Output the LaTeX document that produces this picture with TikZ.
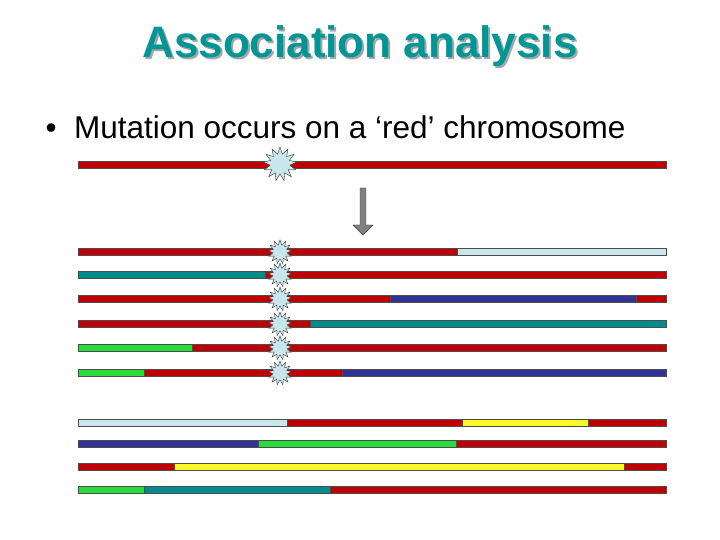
\documentclass[tikz,border=0pt]{standalone}
\usepackage{fontspec}
\setmainfont{Liberation Sans}
\usetikzlibrary{shapes.geometric, shapes.arrows}
\definecolor{chrred}{RGB}{192,0,0}
\definecolor{chrteal}{RGB}{0,140,140}
\definecolor{chrnavy}{RGB}{50,50,150}
\definecolor{chrlight}{RGB}{200,230,235}
\definecolor{chrgreen}{RGB}{40,220,60}
\definecolor{chryellow}{RGB}{250,250,40}
\definecolor{titleteal}{RGB}{0,150,150}
\tikzset{seg/.style={draw=black!70, line width=0.5pt},
  mutation/.style={star, star points=13, star point ratio=1.7, draw=black!80, fill=chrlight, inner sep=0pt},
  bigmut/.style={mutation, minimum size=34pt},
  smallmut/.style={mutation, minimum size=24pt}}
% \chrom{y}{list of x-start/x-end/colour}
\newcommand{\chrom}[2]{\foreach \xa/\xb/\col in {#2} {\filldraw[seg, fill=\col] (\xa,#1-3.5) rectangle (\xb,#1+3.5);}}
\begin{document}
\begin{tikzpicture}[x=1pt, y=-1pt]
    \useasboundingbox (0,0) rectangle (720,540);

    %Title
    \node[font=\bfseries\fontsize{44}{50}\selectfont, text=black!35] at (362,48) {Association analysis};
    \node[font=\bfseries\fontsize{44}{50}\selectfont, text=titleteal] (title) at (360,46) {Association analysis};
    \node[anchor=west, font=\fontsize{31.5}{36}\selectfont] (bullet) at (42,127) {\textbullet\ \ Mutation occurs on a ‘red’ chromosome};

    %Chromosomes
    \chrom{165}{78/666/chrred}
    \chrom{252}{78/457/chrred, 457/666/chrlight}
    \chrom{275}{78/265/chrteal, 265/666/chrred}
    \chrom{299}{78/390/chrred, 390/636/chrnavy, 636/666/chrred}
    \chrom{324}{78/310/chrred, 310/666/chrteal}
    \chrom{348}{78/192/chrgreen, 192/666/chrred}
    \chrom{373}{78/144/chrgreen, 144/342/chrred, 342/666/chrnavy}
    \chrom{423}{78/287/chrlight, 287/462/chrred, 462/588/chryellow, 588/666/chrred}
    \chrom{444}{78/258/chrnavy, 258/456/chrgreen, 456/666/chrred}
    \chrom{467}{78/174/chrred, 174/624/chryellow, 624/666/chrred}
    \chrom{490}{78/144/chrgreen, 144/330/chrteal, 330/666/chrred}

    %Mutations
    \node[bigmut] (mut0) at (280,164) {};
    \foreach \y [count=\i] in {252,275,299,324,348,373}
        \node[smallmut] (mut\i) at (280,\y) {};

    %Arrow
    \node[single arrow, shape border rotate=270, draw=black!80, fill=black!50, minimum height=47pt, minimum width=20pt, single arrow head extend=4pt, inner sep=1.5pt] (down) at (363,210) {};
\end{tikzpicture}
\end{document}
